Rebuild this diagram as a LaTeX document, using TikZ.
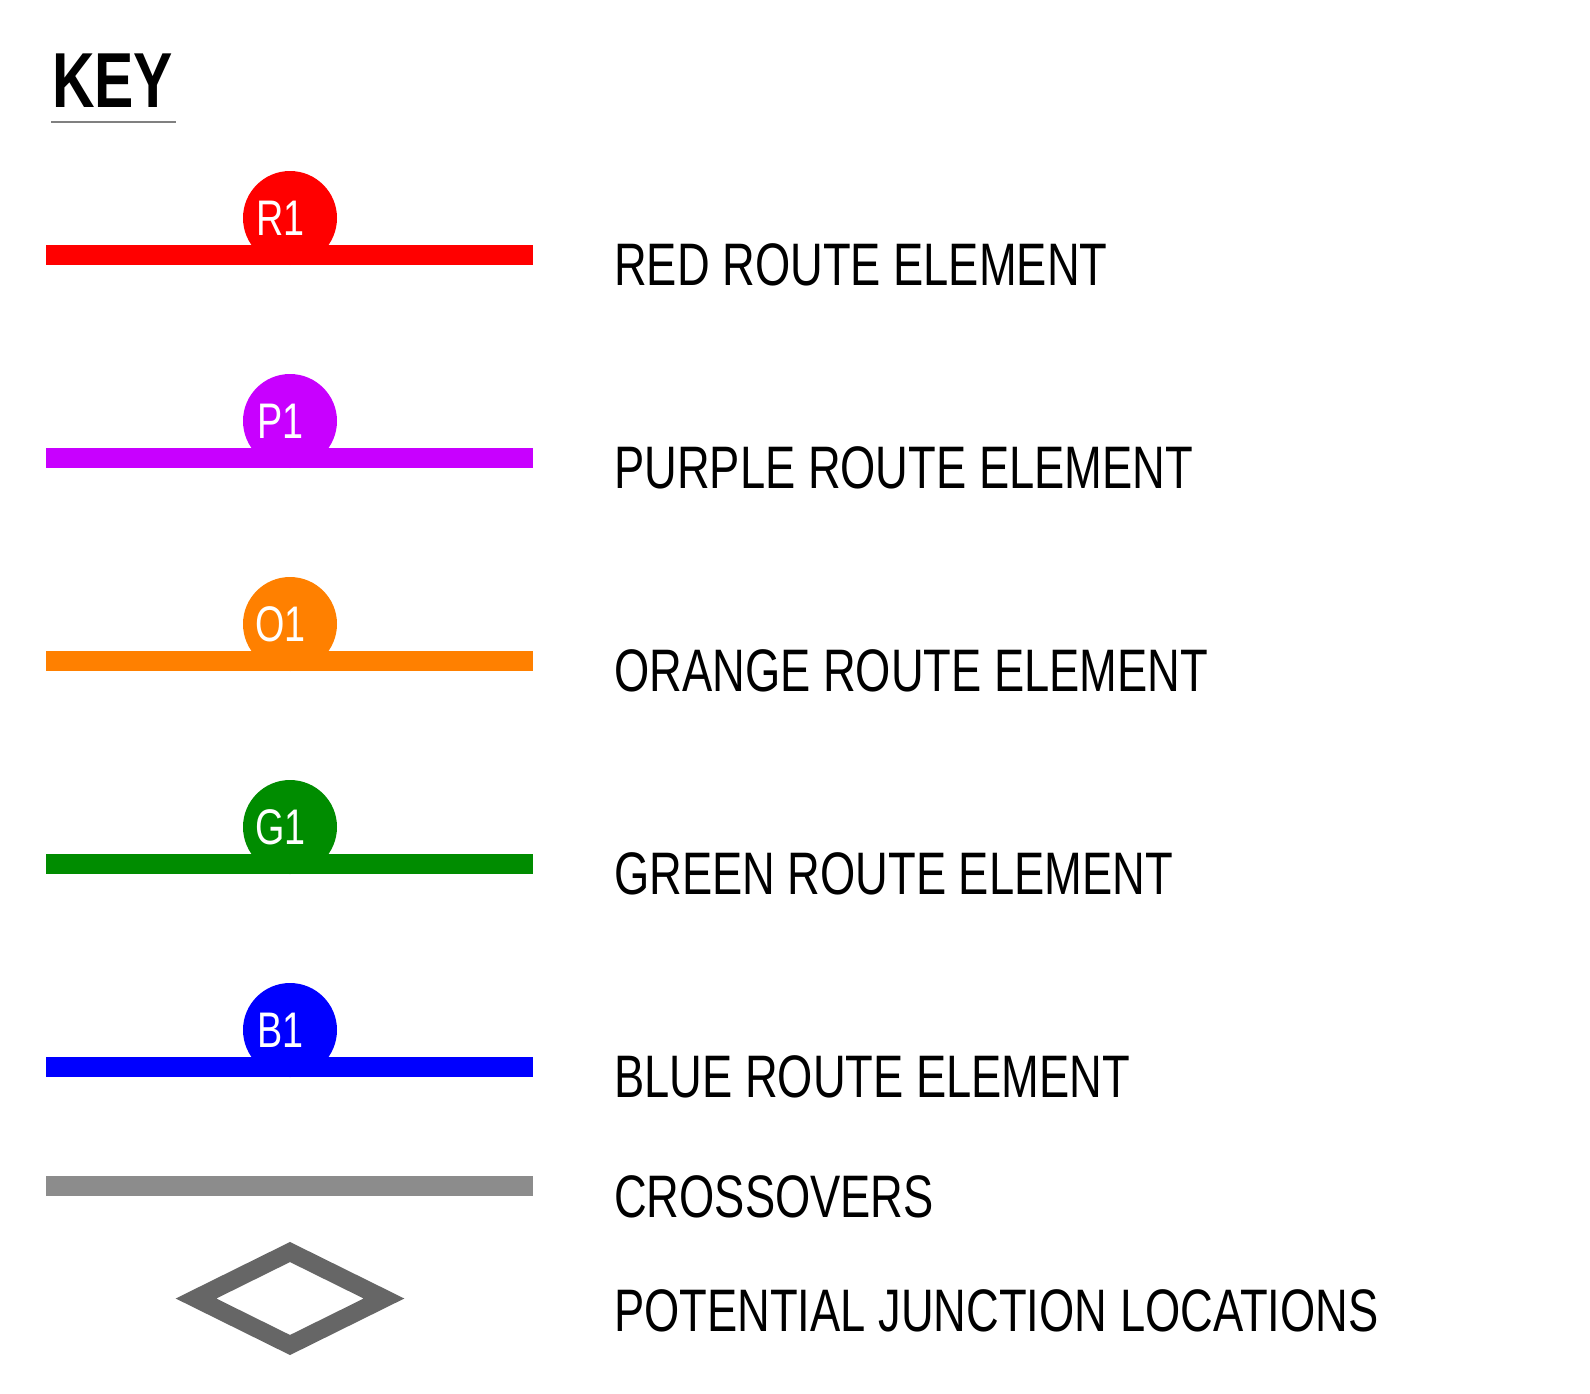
\documentclass[tikz,border=0pt]{standalone}
\usepackage{fontspec}
\setmainfont[FakeStretch=0.755]{Liberation Sans}
\definecolor{rred}{HTML}{FF0000}
\definecolor{rpurple}{HTML}{C800FF}
\definecolor{rorange}{HTML}{FF8000}
\definecolor{rgreen}{HTML}{008C00}
\definecolor{rblue}{HTML}{0000FF}
\definecolor{xgray}{HTML}{8C8C8C}
\definecolor{dgray}{HTML}{666666}
\begin{document}
\begin{tikzpicture}[x=1pt,y=-1pt,
  routeline/.style={line width=20pt},
  badge/.style={circle,fill=#1,minimum size=94pt,inner sep=0pt},
  badgetext/.style={text=white,font=\fontsize{50}{50}\selectfont,inner sep=0pt},
  label/.style={anchor=base west,inner sep=0pt,font=\fontsize{60}{60}\selectfont}]
\useasboundingbox (0,0) rectangle (1590,1393);
\fill[white] (0,0) rectangle (1590,1393);
% title
\node[anchor=base west,inner sep=0pt,font=\fontsize{78}{78}\selectfont\bfseries] (key) at (52,107) {KEY};
\coordinate (ul1) at (51,122);
\coordinate (ul2) at (176,122);
\draw[line width=2pt,gray] (ul1) -- (ul2);
% route elements
\foreach \n/\c/\t/\lab/\yy in {r/rred/R1/RED ROUTE ELEMENT/255,
                                p/rpurple/P1/PURPLE ROUTE ELEMENT/458,
                                o/rorange/O1/ORANGE ROUTE ELEMENT/661,
                                g/rgreen/G1/GREEN ROUTE ELEMENT/864,
                                b/rblue/B1/BLUE ROUTE ELEMENT/1067}{
  \coordinate (\n l) at (46,\yy);
  \coordinate (\n r) at (533,\yy);
  \draw[routeline,\c] (\n l) -- (\n r);
  \node[badge=\c] (\n c) at (290,\yy-37) {};
  \node[badgetext] (\n t) at ([xshift=-9.5pt]\n c.center) {\t};
  \node[label] (\n lab) at (614,\yy+30) {\lab};
}
% crossovers
\coordinate (xl) at (46,1186);
\coordinate (xr) at (533,1186);
\draw[routeline,xgray] (xl) -- (xr);
\node[label] (xlab) at (614,1217) {CROSSOVERS};
% junction diamond
\draw[dgray,line width=18pt,miter limit=10,line join=miter] (290,1252) coordinate (dt) -- (384,1298.5) coordinate (dr) -- (290,1345) coordinate (db) -- (196,1298.5) coordinate (dl) -- cycle;
\node[label] (jlab) at (614,1331) {POTENTIAL JUNCTION LOCATIONS};
\end{tikzpicture}
\end{document}
